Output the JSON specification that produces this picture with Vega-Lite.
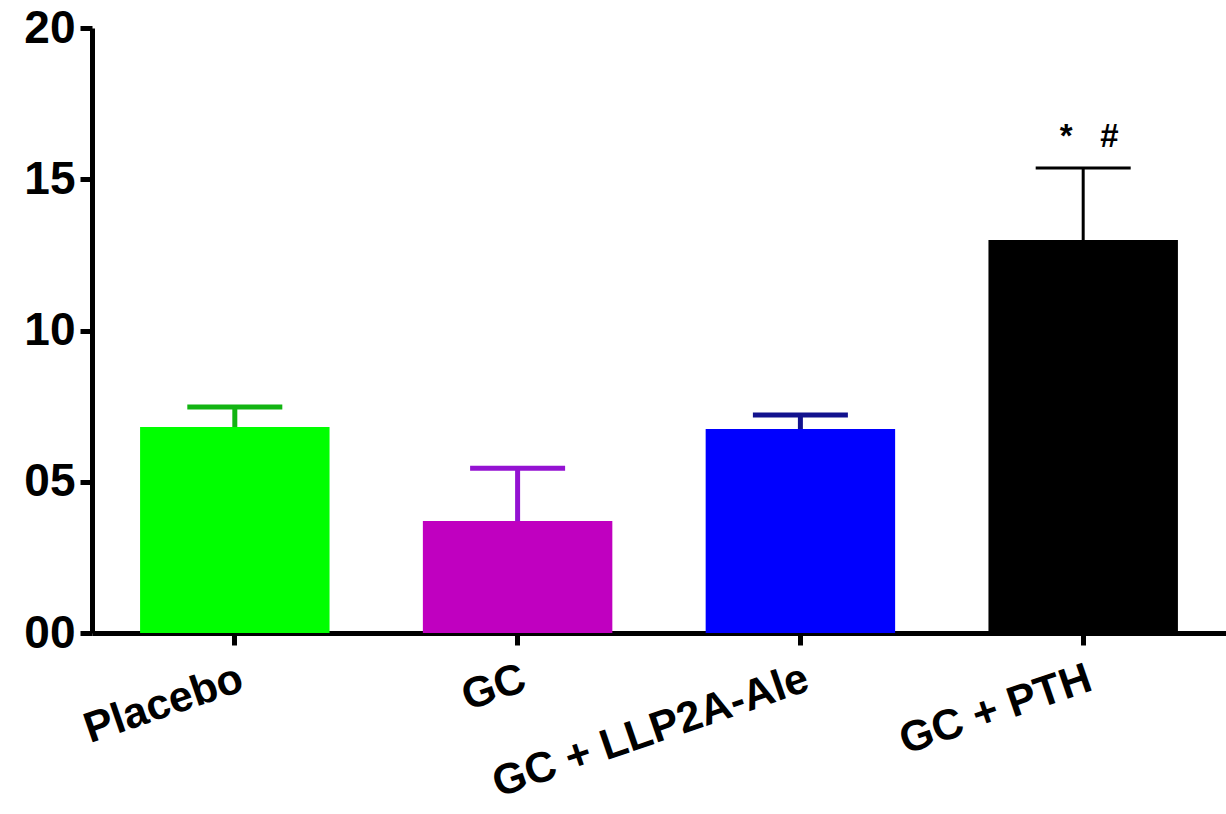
{
  "$schema": "https://vega.github.io/schema/vega-lite/v6.json",
  "autosize": {"type": "none"},
  "padding": {"left": 92, "top": 28, "right": 0, "bottom": 181},
  "width": 1134,
  "height": 605,
  "background": "white",
  "config": {
    "view": {"stroke": null},
    "axis": {
      "domainColor": "black",
      "domainWidth": 5,
      "tickColor": "black",
      "tickWidth": 5,
      "tickSize": 12,
      "labelFont": "Liberation Sans",
      "labelFontWeight": "bold",
      "labelColor": "black",
      "grid": false,
      "title": null
    }
  },
  "data": {
    "values": [
      {"group": "Placebo", "mean": 6.81, "upper": 7.47},
      {"group": "GC", "mean": 3.70, "upper": 5.45},
      {"group": "GC + LLP2A-Ale", "mean": 6.74, "upper": 7.21},
      {"group": "GC + PTH", "mean": 12.99, "upper": 15.37, "sig": "*\u00a0\u00a0\u00a0#"}
    ]
  },
  "encoding": {
    "x": {
      "field": "group",
      "type": "nominal",
      "sort": null,
      "scale": {"paddingInner": 0.33, "paddingOuter": 0.17},
      "axis": {
        "labelAngle": -19,
        "labelAlign": "right",
        "labelBaseline": "top",
        "labelFontSize": 43,
        "labelPadding": 12,
        "labelLimit": 0
      }
    }
  },
  "layer": [
    {
      "mark": {"type": "bar"},
      "encoding": {
        "y": {
          "field": "mean",
          "type": "quantitative",
          "scale": {"domain": [0, 20], "nice": false},
          "axis": {
            "values": [0, 5, 10, 15, 20],
            "labelFontSize": 46,
            "labelPadding": 5,
            "labelExpr": "datum.value < 10 ? '0' + datum.value : '' + datum.value"
          }
        },
        "color": {
          "field": "group",
          "type": "nominal",
          "legend": null,
          "scale": {
            "domain": ["Placebo", "GC", "GC + LLP2A-Ale", "GC + PTH"],
            "range": ["#00ff00", "#c000c0", "#0000ff", "#000000"]
          }
        }
      }
    },
    {
      "mark": {"type": "rule"},
      "encoding": {
        "y": {"field": "mean", "type": "quantitative"},
        "y2": {"field": "upper"},
        "color": {
          "field": "group",
          "type": "nominal",
          "legend": null,
          "scale": {
            "domain": ["Placebo", "GC", "GC + LLP2A-Ale", "GC + PTH"],
            "range": ["#12b412", "#9412d2", "#12128e", "#000000"]
          }
        },
        "strokeWidth": {
          "condition": {"test": "datum.group === 'GC + PTH'", "value": 3},
          "value": 5
        }
      }
    },
    {
      "transform": [{"filter": "datum.group !== 'GC + PTH'"}],
      "mark": {"type": "tick", "size": 95, "thickness": 5, "orient": "horizontal", "opacity": 1},
      "encoding": {
        "y": {"field": "upper", "type": "quantitative"},
        "color": {
          "field": "group",
          "type": "nominal",
          "legend": null,
          "scale": {
            "domain": ["Placebo", "GC", "GC + LLP2A-Ale", "GC + PTH"],
            "range": ["#12b412", "#9412d2", "#12128e", "#000000"]
          }
        }
      }
    },
    {
      "transform": [{"filter": "datum.group === 'GC + PTH'"}],
      "mark": {"type": "tick", "size": 95, "thickness": 3, "orient": "horizontal", "opacity": 1, "color": "black"},
      "encoding": {
        "y": {"field": "upper", "type": "quantitative"}
      }
    },
    {
      "transform": [{"filter": "isValid(datum.sig)"}],
      "mark": {"type": "text", "font": "Liberation Sans", "fontSize": 33, "fontWeight": "bold", "baseline": "bottom", "dy": -14, "dx": 6, "color": "black"},
      "encoding": {
        "y": {"field": "upper", "type": "quantitative"},
        "text": {"field": "sig"}
      }
    }
  ],
  "resolve": {"scale": {"color": "independent"}}
}
